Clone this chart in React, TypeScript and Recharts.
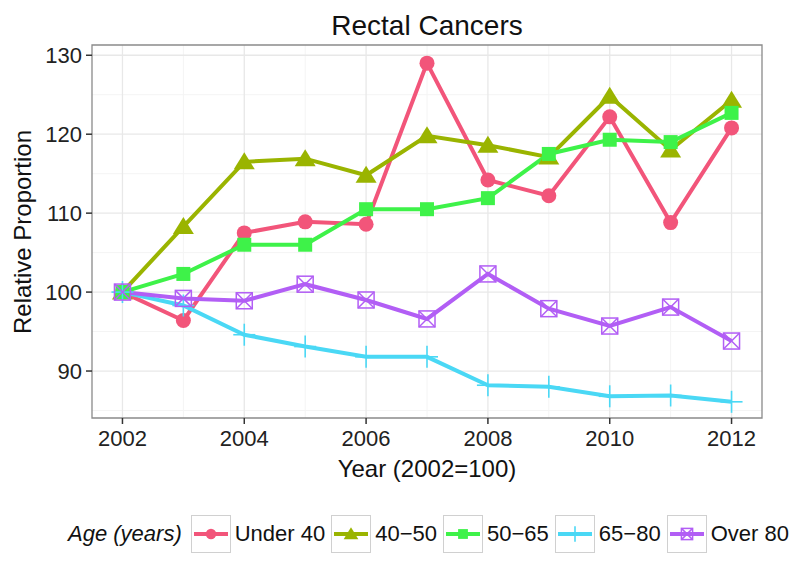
import React from "react";
import {
  LineChart,
  Line,
  XAxis,
  YAxis,
  CartesianGrid,
  ReferenceArea,
  Label,
} from "recharts";

const years = [2002, 2003, 2004, 2005, 2006, 2007, 2008, 2009, 2010, 2011, 2012];

const under40 = [100, 96.4, 107.5, 108.9, 108.6, 129.0, 114.2, 112.2, 122.2, 108.8, 120.8];
const age40to50 = [100, 108.3, 116.5, 116.9, 114.8, 119.8, 118.6, 117.1, 124.8, 118.0, 124.3];
const age50to65 = [100, 102.3, 106.0, 106.0, 110.5, 110.5, 111.9, 117.5, 119.3, 119.0, 122.7];
const age65to80 = [100, 98.3, 94.6, 93.1, 91.8, 91.8, 88.2, 88.0, 86.8, 86.9, 86.1];
const over80 = [100, 99.2, 98.9, 101.0, 99.0, 96.6, 102.3, 97.9, 95.7, 98.1, 93.8];

const xTicks = [2002, 2004, 2006, 2008, 2010, 2012];
const xMinor = [2003, 2005, 2007, 2009, 2011];
const yTicks = [90, 100, 110, 120, 130];
const yMinor = [85, 95, 105, 115, 125];

const X_DOMAIN: [number, number] = [2001.5, 2012.5];
const Y_DOMAIN: [number, number] = [84.05, 131.3];

const data = years.map((year, i) => ({
  year,
  under40: under40[i],
  a4050: age40to50[i],
  a5065: age50to65[i],
  a6580: age65to80[i],
  over80: over80[i],
}));

const FONT = "'Liberation Sans', Arial, Helvetica, sans-serif";

const series = [
  { key: "under40", name: "Under 40", color: "#f2557a", shape: "circle" },
  { key: "a4050", name: "40\u221250", color: "#9ab400", shape: "triangle" },
  { key: "a5065", name: "50\u221265", color: "#3ef249", shape: "square" },
  { key: "a6580", name: "65\u221280", color: "#4ad8f5", shape: "plus" },
  { key: "over80", name: "Over 80", color: "#b25ef5", shape: "boxx" },
];

function Marker({ shape, color, cx, cy, scale = 1 }: any) {
  if (cx == null || cy == null) return null;
  const s = scale;
  if (shape === "circle") return <circle cx={cx} cy={cy} r={7.5 * s} fill={color} />;
  if (shape === "triangle") {
    const h = 9.5 * s;
    return (
      <polygon
        points={`${cx},${cy - h} ${cx - 10.5 * s},${cy + 7.5 * s} ${cx + 10.5 * s},${cy + 7.5 * s}`}
        fill={color}
      />
    );
  }
  if (shape === "square")
    return <rect x={cx - 7 * s} y={cy - 7 * s} width={14 * s} height={14 * s} fill={color} />;
  if (shape === "plus")
    return (
      <g stroke={color} strokeWidth={1.6}>
        <line x1={cx} y1={cy - 11 * s} x2={cx} y2={cy + 11 * s} />
        <line x1={cx - 11 * s} y1={cy} x2={cx + 11 * s} y2={cy} />
      </g>
    );
  const h = 8 * s;
  return (
    <g stroke={color} strokeWidth={1.5} fill="none">
      <rect x={cx - h} y={cy - h} width={2 * h} height={2 * h} />
      <line x1={cx - h} y1={cy - h} x2={cx + h} y2={cy + h} />
      <line x1={cx - h} y1={cy + h} x2={cx + h} y2={cy - h} />
    </g>
  );
}

const LegendBox = ({ shape, color }: any) => (
  <svg width={40} height={38} style={{ display: "block" }}>
    <rect x={0.5} y={0.5} width={39} height={37} fill="#fff" stroke="#d0d0d0" />
    <line x1={3} y1={19} x2={37} y2={19} stroke={color} strokeWidth={4} />
    <Marker shape={shape} color={color} cx={20} cy={19} scale={0.7} />
  </svg>
);

const App = () => {
  return (
    <div
      style={{
        position: "absolute",
        left: 0,
        top: 0,
        width: 800,
        height: 575,
        background: "#fff",
        fontFamily: FONT,
      }}
    >
      <div
        style={{
          position: "absolute",
          top: 10,
          left: 92,
          width: 670,
          textAlign: "center",
          fontSize: 28,
          color: "#111",
        }}
      >
        Rectal Cancers
      </div>
      <LineChart
        width={800}
        height={575}
        data={data}
        margin={{ top: 45, right: 38, left: 0, bottom: 0 }}
      >
        <CartesianGrid
          stroke="#f4f4f4"
          strokeWidth={1}
          horizontalValues={yMinor}
          verticalValues={xMinor}
        />
        <CartesianGrid
          stroke="#e8e8e8"
          strokeWidth={1.3}
          horizontalValues={yTicks}
          verticalValues={xTicks}
        />
        <XAxis
          dataKey="year"
          type="number"
          domain={X_DOMAIN}
          ticks={xTicks}
          allowDataOverflow
          axisLine={false}
          tickSize={6}
          tickMargin={6}
          tickLine={{ stroke: "#333", strokeWidth: 1.5 }}
          tick={{ fill: "#222", fontSize: 22, fontFamily: FONT }}
          height={157}
        >
          <Label
            content={() => (
              <text x={427} y={477} textAnchor="middle" fontSize={24} fill="#111" fontFamily={FONT}>
                Year (2002=100)
              </text>
            )}
          />
        </XAxis>
        <YAxis
          type="number"
          domain={Y_DOMAIN}
          ticks={yTicks}
          allowDataOverflow
          axisLine={false}
          tickSize={6}
          tickMargin={4}
          tickLine={{ stroke: "#333", strokeWidth: 1.5 }}
          tick={{ fill: "#222", fontSize: 22, fontFamily: FONT }}
          width={92}
        >
          <Label
            content={() => (
              <text
                x={31}
                y={232}
                textAnchor="middle"
                fontSize={24}
                fill="#111"
                fontFamily={FONT}
                transform="rotate(-90 31 232)"
              >
                Relative Proportion
              </text>
            )}
          />
        </YAxis>
        <ReferenceArea
          x1={X_DOMAIN[0]}
          x2={X_DOMAIN[1]}
          y1={Y_DOMAIN[0]}
          y2={Y_DOMAIN[1]}
          fill="none"
          stroke="#8a8a8a"
          strokeWidth={1.3}
          ifOverflow="visible"
        />
        {series.map((s) => (
          <Line
            key={s.key}
            dataKey={s.key}
            name={s.name}
            type="linear"
            stroke={s.color}
            strokeWidth={4}
            isAnimationActive={false}
            activeDot={false}
            dot={(p: any) => (
              <Marker key={`${s.key}-${p.index}`} shape={s.shape} color={s.color} cx={p.cx} cy={p.cy} />
            )}
          />
        ))}
      </LineChart>
      <div
        style={{
          position: "absolute",
          top: 515,
          left: 68,
          display: "flex",
          alignItems: "center",
          fontSize: 22,
          color: "#111",
          height: 38,
        }}
      >
        <span style={{ fontStyle: "italic", marginRight: 9 }}>Age (years)</span>
        {series.map((s) => (
          <div key={s.key} style={{ display: "flex", alignItems: "center", marginRight: 6 }}>
            <LegendBox shape={s.shape} color={s.color} />
            <span style={{ marginLeft: 4 }}>{s.name}</span>
          </div>
        ))}
      </div>
    </div>
  );
};

export default App;
